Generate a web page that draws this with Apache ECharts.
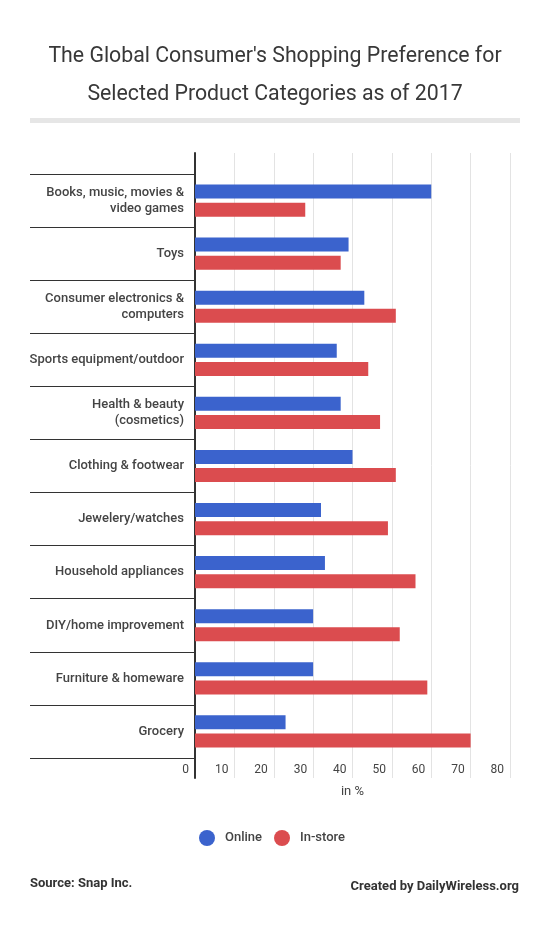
<!DOCTYPE html>
<html>
<head>
<meta charset="utf-8">
<script src="https://cdn.jsdelivr.net/npm/echarts@6/dist/echarts.min.js"></script>
<style>
html,body{margin:0;padding:0;background:#fff;}
#chart{width:550px;height:952px;}
</style>
</head>
<body>
<div id="chart"></div>
<script>
var categories = [
  "Books, music, movies &\nvideo games",
  "Toys",
  "Consumer electronics &\ncomputers",
  "Sports equipment/outdoor",
  "Health & beauty\n(cosmetics)",
  "Clothing & footwear",
  "Jewelery/watches",
  "Household appliances",
  "DIY/home improvement",
  "Furniture & homeware",
  "Grocery"
];
var online  = [60, 39, 43, 36, 37, 40, 32, 33, 30, 30, 23];
var inStore = [28, 37, 51, 44, 47, 51, 49, 56, 52, 59, 70];
var tickValues = [0, 10, 20, 30, 40, 50, 60, 70, 80];

var FONT = "Roboto";
var chart = echarts.init(document.getElementById('chart'), null, {renderer: 'canvas'});
chart.setOption({
  backgroundColor: '#ffffff',
  textStyle: {fontFamily: FONT},
  title: {
    text: "The Global Consumer's Shopping Preference for\nSelected Product Categories as of 2017",
    left: 'center',
    top: 33,
    textStyle: {fontFamily: FONT, fontSize: 21.3, fontWeight: 'normal', color: '#383838', lineHeight: 38}
  },
  graphic: [
    {type: 'rect', shape: {x: 30, y: 118, width: 490, height: 5}, style: {fill: '#e6e6e6'}},
    {type: 'text', left: 30, top: 877, style: {text: 'Source: Snap Inc.', font: 'bold 13px Roboto', fill: '#333'}},
    {type: 'text', right: 31, top: 880, style: {text: 'Created by DailyWireless.org', font: 'bold 13px Roboto', fill: '#333'}}
  ],
  legend: {
    data: ['Online', 'In-store'],
    left: 194,
    top: 825,
    icon: 'circle',
    itemWidth: 16,
    itemHeight: 16,
    itemGap: 12,
    textStyle: {fontFamily: FONT, fontSize: 13, fontWeight: 500, color: '#444', padding: [0, 0, 0, 5]}
  },
  grid: [
    {left: 195, right: 40, top: 174, bottom: 194},
    {left: 195, right: 40, top: 153, bottom: 174}
  ],
  xAxis: [
    {gridIndex: 0, type: 'value', min: 0, max: 80, interval: 10, show: false},
    {gridIndex: 1, type: 'value', min: 0, max: 80, interval: 10,
     axisLine: {show: false}, axisTick: {show: false},
     splitLine: {show: true, lineStyle: {color: '#e3e3e3', width: 1}},
     axisLabel: {inside: true, margin: 2, align: 'right', padding: [0, 6, 0, 0],
                 fontFamily: FONT, fontSize: 12, color: '#444',
                 formatter: function (v) { return tickValues.indexOf(v) >= 0 ? String(v) : ''; }},
     name: 'in %', nameLocation: 'middle', nameGap: 7,
     nameTextStyle: {fontFamily: FONT, fontSize: 13, color: '#444', verticalAlign: 'top'}}
  ],
  yAxis: [
    {gridIndex: 0, type: 'category', data: categories, inverse: true,
     axisLine: {show: false},
     axisTick: {show: true, length: 165, interval: 0, lineStyle: {color: '#333', width: 1}},
     axisLabel: {margin: 11, interval: 0, fontFamily: FONT, fontSize: 13, fontWeight: 500, color: '#444', lineHeight: 16, align: 'right'}},
    {gridIndex: 1, type: 'value', min: 0, max: 1,
     axisLine: {show: true, lineStyle: {color: '#333', width: 2}},
     axisTick: {show: false}, axisLabel: {show: false}, splitLine: {show: false}}
  ],
  series: [
    {name: 'Online', type: 'bar', xAxisIndex: 0, yAxisIndex: 0, data: online,
     barWidth: 14, barGap: '30%', itemStyle: {color: '#3b63cd'}, z: 3},
    {name: 'In-store', type: 'bar', xAxisIndex: 0, yAxisIndex: 0, data: inStore,
     barWidth: 14, barGap: '30%', itemStyle: {color: '#db4c4f'}, z: 3}
  ]
});
</script>
</body>
</html>
